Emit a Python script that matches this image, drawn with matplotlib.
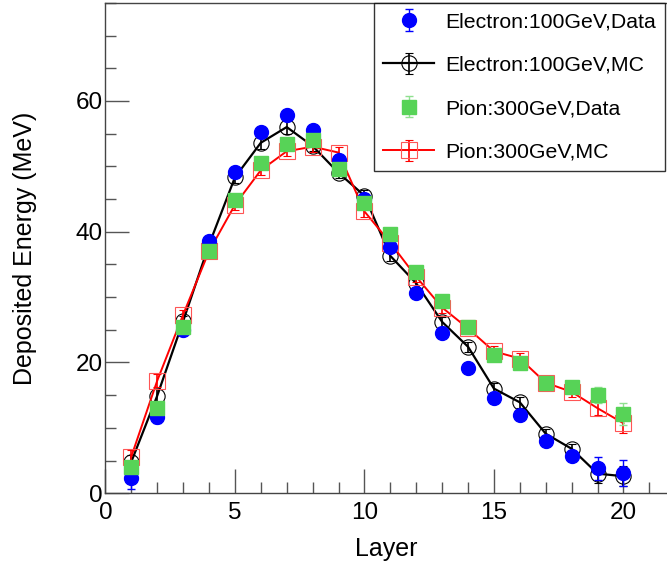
import numpy as np
import matplotlib.pyplot as plt
from matplotlib.ticker import MultipleLocator

plt.rcParams['font.family'] = ['Liberation Sans', 'DejaVu Sans']

# Layer numbers
layers = np.arange(1, 21)

# Electron 100 GeV, data
ele_data = [2.4, 11.7, 25.0, 38.5, 49.1, 55.3, 57.8, 55.5, 50.9, 45.0,
            37.7, 30.6, 24.5, 19.2, 14.6, 11.9, 8.0, 5.7, 3.8, 3.1]
ele_data_err = [1.8, 1.0, 0.6, 0.6, 0.5, 0.5, 0.5, 0.5, 0.5, 0.5,
                0.5, 0.5, 0.4, 0.4, 0.4, 0.4, 0.5, 0.8, 1.8, 2.0]

# Electron 100 GeV, MC
ele_mc = [4.8, 14.9, 26.3, 38.0, 48.3, 53.6, 56.0, 53.1, 49.0, 45.5,
          36.3, 32.1, 26.2, 22.4, 16.0, 13.9, 9.1, 6.8, 3.0, 2.6]
ele_mc_err = [1.0, 1.0, 0.8, 0.8, 0.8, 1.0, 1.0, 0.8, 0.8, 0.8,
              0.8, 0.8, 0.8, 0.8, 0.8, 0.8, 0.8, 0.8, 1.5, 1.5]

# Pion 300 GeV, data
pi_data = [4.0, 13.0, 25.5, 37.0, 44.9, 50.5, 53.4, 54.0, 49.6, 44.4,
           39.6, 33.8, 29.4, 25.4, 21.1, 19.9, 16.9, 16.3, 15.0, 12.1]
pi_data_err = [0.5, 0.5, 0.5, 0.5, 0.5, 0.5, 0.5, 0.5, 0.5, 0.5,
               0.5, 0.5, 0.5, 0.5, 0.5, 0.5, 0.5, 0.6, 1.2, 1.7]

# Pion 300 GeV, MC
pi_mc = [5.6, 17.2, 27.3, 37.0, 44.1, 49.4, 52.3, 53.0, 52.1, 43.1,
         38.3, 33.1, 28.4, 25.2, 21.7, 20.6, 16.9, 15.5, 13.0, 10.7]
pi_mc_err = [1.0, 1.0, 0.8, 0.8, 0.8, 0.8, 0.8, 0.8, 0.8, 0.8,
             0.8, 0.8, 0.8, 0.8, 0.8, 0.8, 0.8, 0.8, 1.0, 1.5]

fig = plt.figure(figsize=(6.67, 5.65), dpi=100)
ax = fig.add_axes([0.158, 0.127, 0.842, 0.868])

ax.errorbar(layers, ele_data, yerr=ele_data_err, fmt='o', color='#0000ff',
            ms=10, capsize=3, elinewidth=1, zorder=5,
            label='Electron:100GeV,Data')
ax.errorbar(layers, ele_mc, yerr=ele_mc_err, fmt='o-', color='black',
            mfc='none', mec='black', ms=11, mew=0.8, capsize=3, lw=1.6,
            elinewidth=1.2, zorder=3, label='Electron:100GeV,MC')
ax.errorbar(layers, pi_data, yerr=pi_data_err, fmt='s', color='#57d357',
            ecolor='#8fe08f', ms=10, capsize=3, elinewidth=1, zorder=6,
            label='Pion:300GeV,Data')
ax.errorbar(layers, pi_mc, yerr=pi_mc_err, fmt='s-', color='red',
            mfc='none', mec='#ff5555', ms=11, mew=0.8, capsize=3, lw=1.4,
            elinewidth=1.2, zorder=4, label='Pion:300GeV,MC')

ax.set_xlim(0, 21.68)
ax.set_ylim(0, 75)
ax.xaxis.set_major_locator(MultipleLocator(5))
ax.xaxis.set_minor_locator(MultipleLocator(1))
ax.yaxis.set_major_locator(MultipleLocator(20))
ax.yaxis.set_minor_locator(MultipleLocator(5))
ax.tick_params(which='both', direction='in', color='#555555', labelsize=17.5)
ax.tick_params(which='major', length=17, width=1)
ax.tick_params(which='minor', length=8, width=1)
ax.tick_params(axis='x', pad=6)
ax.tick_params(axis='y', pad=2)
ax.spines['right'].set_visible(False)
for s in ['left', 'bottom', 'top']:
    ax.spines[s].set_linewidth(1.0)
    ax.spines[s].set_color('#444444')

ax.set_xlabel('Layer', fontsize=18, labelpad=10)
ax.set_ylabel('Deposited Energy (MeV)', fontsize=18, labelpad=28)

leg = ax.legend(loc='upper right', bbox_to_anchor=(0.997, 1.0), fontsize=15.3,
                frameon=True, fancybox=False, edgecolor='black',
                borderpad=0.45, labelspacing=1.15, handlelength=2.4,
                handletextpad=0.5, borderaxespad=0.0)
leg.get_frame().set_linewidth(1.0)
leg.set_zorder(10)

fig.savefig('out.png', dpi=100)
